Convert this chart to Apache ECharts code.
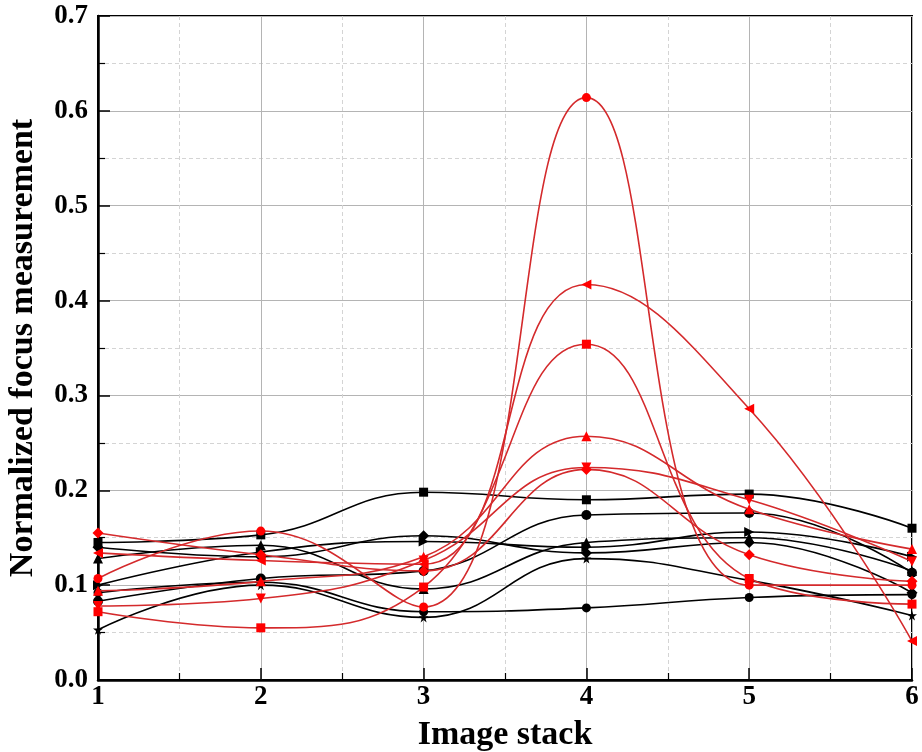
<!DOCTYPE html>
<html>
<head>
<meta charset="utf-8">
<script src="https://cdn.jsdelivr.net/npm/echarts@6/dist/echarts.min.js"></script>
<style>
html,body{margin:0;padding:0;background:#fff;}
#main{width:922px;height:752px;}
</style>
</head>
<body>
<div id="main"></div>
<script>
// x positions (image stack index)
var stacks = [1, 2, 3, 4, 5, 6];
var yTicks = [0, 0.1, 0.2, 0.3, 0.4, 0.5, 0.6, 0.7];

// black curves
var blackSquare   = [0.145, 0.153, 0.198, 0.190, 0.196, 0.160];
var blackCircle   = [0.083, 0.107, 0.115, 0.174, 0.176, 0.113];
var blackUp       = [0.128, 0.142, 0.096, 0.145, 0.150, 0.115];
var blackDown     = [0.100, 0.135, 0.146, 0.140, 0.156, 0.130];
var blackDiamond  = [0.140, 0.130, 0.152, 0.134, 0.145, 0.092];
var blackLow      = [0.092, 0.103, 0.072, 0.076, 0.087, 0.090];
var blackStar     = [0.053, 0.100, 0.066, 0.128, 0.105, 0.068];

// red curves
var redCircle     = [0.107, 0.157, 0.077, 0.614, 0.100, 0.100];
var redLeft       = [0.134, 0.126, 0.122, 0.417, 0.286, 0.041];
var redSquare     = [0.072, 0.055, 0.098, 0.354, 0.107, 0.080];
var redUp         = [0.094, 0.104, 0.130, 0.257, 0.180, 0.138];
var redDown       = [0.078, 0.086, 0.126, 0.224, 0.190, 0.125];
var redDiamond    = [0.155, 0.132, 0.115, 0.222, 0.132, 0.104];

var starPath = 'path://M50,0 L61,35 L98,35 L68,57 L79,91 L50,70 L21,91 L32,57 L2,35 L39,35 Z';

function pairs(arr){
    var out = [];
    for (var i = 0; i < arr.length; i++) out.push([stacks[i], arr[i]]);
    return out;
}

function mk(data, sym, rot, size, lineColor, dotColor){
    return {
        type: 'line',
        data: pairs(data),
        smooth: 0.45,
        symbol: sym,
        symbolSize: size,
        symbolRotate: rot,
        showAllSymbol: true,
        lineStyle: {color: lineColor, width: 1.6},
        itemStyle: {color: dotColor, borderWidth: 0},
        emphasis: {disabled: true},
        z: lineColor == '#000' ? 2 : 3
    };
}

var B = '#000', RL = '#d42a2c', RD = '#ff0000';
var series = [
    mk(blackSquare, 'rect', 0, 9, B, B),
    mk(blackCircle, 'circle', 0, 10, B, B),
    mk(blackUp, 'triangle', 0, 10, B, B),
    mk(blackDown, 'triangle', -90, 10, B, B),
    mk(blackDiamond, 'diamond', 0, 11, B, B),
    mk(blackLow, 'circle', 0, 9, B, B),
    mk(blackStar, starPath, 0, 10, B, B),
    mk(redCircle, 'circle', 0, 9, RL, RD),
    mk(redLeft, 'triangle', 90, 10, RL, RD),
    mk(redSquare, 'rect', 0, 9, RL, RD),
    mk(redUp, 'triangle', 0, 10, RL, RD),
    mk(redDown, 'triangle', 180, 10, RL, RD),
    mk(redDiamond, 'diamond', 0, 11, RL, RD)
];

var font = 'Liberation Serif';
var myChart = echarts.init(document.getElementById('main'));
var option = {
    animation: false,
    backgroundColor: '#fff',
    grid: {
        left: 98, right: 10, top: 16, bottom: 72,
        outerBoundsMode: 'none',
        containLabel: false,
        show: true, borderColor: '#000', borderWidth: 2
    },
    xAxis: {
        type: 'value',
        min: 1, max: 6, interval: 1,
        name: 'Image stack',
        nameLocation: 'middle',
        nameGap: 38,
        nameTextStyle: {fontFamily: font, fontWeight: 'bold', fontSize: 34, color: '#000'},
        axisLine: {lineStyle: {color: '#000', width: 2.5}},
        axisTick: {inside: true, length: 12, lineStyle: {color: '#000', width: 1.5}},
        minorTick: {show: true, splitNumber: 2, length: 7, lineStyle: {color: '#000', width: 1.2}},
        axisLabel: {fontFamily: font, fontWeight: 'bold', fontSize: 27, color: '#000', margin: 4},
        splitLine: {show: true, lineStyle: {color: '#b4b4b4', width: 1}},
        minorSplitLine: {show: true, lineStyle: {color: '#d4d4d4', width: 1, type: [4, 3]}}
    },
    yAxis: {
        type: 'value',
        min: yTicks[0], max: yTicks[yTicks.length - 1], interval: 0.1,
        name: 'Normalized focus measurement',
        nameLocation: 'middle',
        nameGap: 58,
        nameTextStyle: {fontFamily: font, fontWeight: 'bold', fontSize: 34, color: '#000'},
        axisLine: {show: true, lineStyle: {color: '#000', width: 2.5}},
        axisTick: {show: true, inside: true, length: 12, lineStyle: {color: '#000', width: 1.5}},
        minorTick: {show: true, splitNumber: 2, length: 7, lineStyle: {color: '#000', width: 1.2}},
        axisLabel: {
            fontFamily: font, fontWeight: 'bold', fontSize: 27, color: '#000', margin: 10,
            formatter: function(v){ return v.toFixed(1); }
        },
        splitLine: {show: true, lineStyle: {color: '#b4b4b4', width: 1}},
        minorSplitLine: {show: true, lineStyle: {color: '#d4d4d4', width: 1, type: [4, 3]}}
    },
    series: series
};
myChart.setOption(option);
</script>
</body>
</html>
